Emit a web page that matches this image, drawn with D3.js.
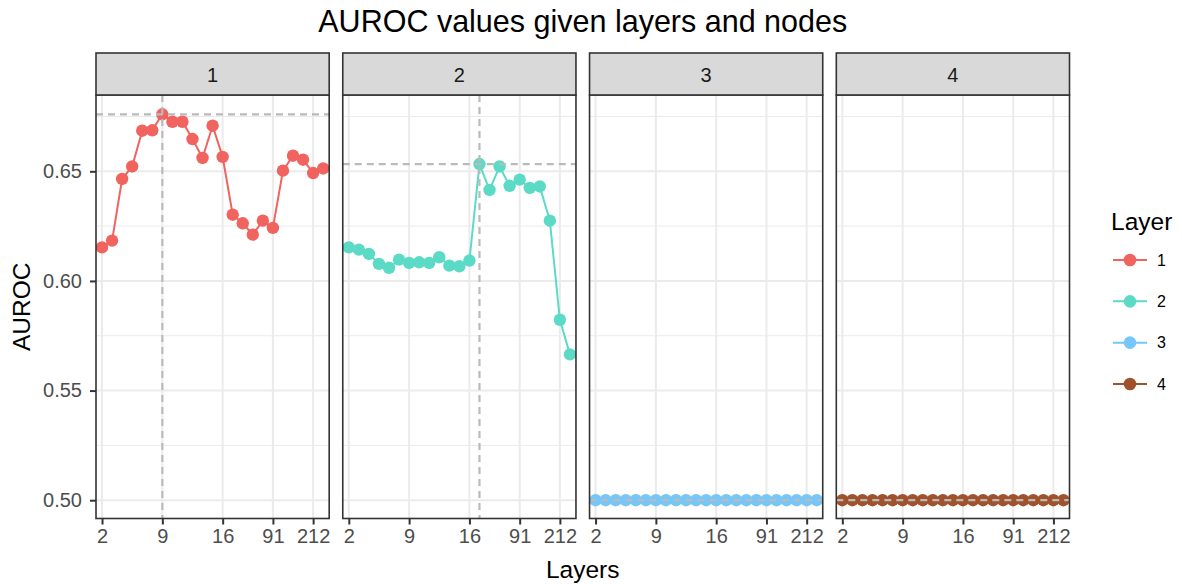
<!DOCTYPE html>
<html>
<head>
<meta charset="utf-8">
<script src="https://cdn.jsdelivr.net/npm/d3@7"></script>
<style>
  html, body { margin: 0; padding: 0; background: #fff; }
  svg { display: block; font-family: "Liberation Sans", Arial, sans-serif; }
</style>
</head>
<body>
<svg id="chart" width="1182" height="584"></svg>
<script>
// Facets: one panel per number of hidden layers
const layers = ["1", "2", "3", "4"];

// Node counts along the x axis (discrete), and the ones that get a tick label
const nodes = ["2", "3", "4", "5", "6", "7", "9", "10", "11", "12", "13", "14",
               "16", "31", "46", "61", "76", "91", "121", "151", "181", "212", "242"];
const tickNodes = ["2", "9", "16", "91", "212"];

// AUROC per node count, one series per layer
const auroc1 = [0.6153, 0.6184, 0.6465, 0.6522, 0.6685, 0.6687, 0.6760, 0.6726,
                0.6726, 0.6647, 0.6561, 0.6708, 0.6566, 0.6302, 0.6263, 0.6211,
                0.6275, 0.6242, 0.6503, 0.6571, 0.6553, 0.6492, 0.6513];
const auroc2 = [0.6153, 0.6143, 0.6123, 0.6078, 0.6060, 0.6097, 0.6082, 0.6085,
                0.6082, 0.6108, 0.6070, 0.6067, 0.6093, 0.6533, 0.6415, 0.6522,
                0.6434, 0.6462, 0.6424, 0.6431, 0.6275, 0.5823, 0.5665];
const auroc3 = [0.5, 0.5, 0.5, 0.5, 0.5, 0.5, 0.5, 0.5, 0.5, 0.5, 0.5, 0.5,
                0.5, 0.5, 0.5, 0.5, 0.5, 0.5, 0.5, 0.5, 0.5, 0.5, 0.5];
const auroc4 = [0.5, 0.5, 0.5, 0.5, 0.5, 0.5, 0.5, 0.5, 0.5, 0.5, 0.5, 0.5,
                0.5, 0.5, 0.5, 0.5, 0.5, 0.5, 0.5, 0.5, 0.5, 0.5, 0.5];
const series = [auroc1, auroc2, auroc3, auroc4];

const yTicks = [0.50, 0.55, 0.60, 0.65];
const colors = ["#F0635F", "#5BDBC6", "#76C6F7", "#A0522D"];

const svg = d3.select("#chart");

// Panel geometry
const panelTop = 95, panelBottom = 518.5;
const stripTop = 53;
const facetX = d3.scaleBand().domain(layers).range([96, 1069.5]).paddingInner(0.055).paddingOuter(0);
const pw = facetX.bandwidth();

const x = d3.scalePoint().domain(nodes).range([0, pw]).padding(0.6);

// Shared y scale with 5% expansion on the data range
const allVals = series.flat();
const yMin = d3.min(allVals), yMax = d3.max(allVals);
const ex = (yMax - yMin) * 0.05;
const y = d3.scaleLinear().domain([yMin - ex, yMax + ex]).range([panelBottom + 1, panelTop]);

const minorTicks = d3.range(yTicks.length + 1).map(i => yTicks[0] - 0.025 + i * 0.05)
  .filter(v => v > y.domain()[0] && v < y.domain()[1]);

const midX = facetX.range()[0] + (facetX.range()[1] - facetX.range()[0]) / 2;

// Title
svg.append("text")
  .attr("x", midX).attr("y", 32).attr("text-anchor", "middle")
  .attr("font-size", 30.5).attr("fill", "#000")
  .text("AUROC values given layers and nodes");

const defs = svg.append("defs");

layers.forEach((layer, li) => {
  const vals = series[li];
  const g = svg.append("g").attr("transform", `translate(${facetX(layer)},0)`);

  // Panel background
  g.append("rect").attr("x", 0).attr("y", panelTop).attr("width", pw)
    .attr("height", panelBottom - panelTop).attr("fill", "#fff");

  // Grid
  g.selectAll(".minor").data(minorTicks).join("line")
    .attr("x1", 0).attr("x2", pw).attr("y1", d => y(d)).attr("y2", d => y(d))
    .attr("stroke", "#EBEBEB").attr("stroke-width", 1);
  g.selectAll(".majorY").data(yTicks).join("line")
    .attr("x1", 0).attr("x2", pw).attr("y1", d => y(d)).attr("y2", d => y(d))
    .attr("stroke", "#EBEBEB").attr("stroke-width", 2);
  g.selectAll(".majorX").data(tickNodes).join("line")
    .attr("x1", d => x(d)).attr("x2", d => x(d)).attr("y1", panelTop).attr("y2", panelBottom)
    .attr("stroke", "#EBEBEB").attr("stroke-width", 2);

  // Clip for marks
  const clipId = "clip" + li;
  defs.append("clipPath").attr("id", clipId).append("rect")
    .attr("x", 0).attr("y", panelTop).attr("width", pw).attr("height", panelBottom - panelTop);
  const marks = g.append("g").attr("clip-path", `url(#${clipId})`);

  const pts = nodes.map((n, i) => ({ n, v: vals[i] }));
  marks.append("path").datum(pts)
    .attr("fill", "none").attr("stroke", colors[li]).attr("stroke-width", 2)
    .attr("d", d3.line().x(d => x(d.n)).y(d => y(d.v)));
  marks.selectAll("circle").data(pts).join("circle")
    .attr("cx", d => x(d.n)).attr("cy", d => y(d.v)).attr("r", 6.2)
    .attr("fill", colors[li]);

  // Reference lines at the best AUROC of each layer
  const best = d3.max(vals);
  marks.append("line").attr("x1", 0).attr("x2", pw)
    .attr("y1", y(best)).attr("y2", y(best))
    .attr("stroke", "#BABABA").attr("stroke-width", 2.2).attr("stroke-dasharray", "7,5");
  if (d3.min(vals) !== best) {
    const bi = d3.maxIndex(vals);
    marks.append("line").attr("x1", x(nodes[bi])).attr("x2", x(nodes[bi]))
      .attr("y1", panelTop).attr("y2", panelBottom)
      .attr("stroke", "#BABABA").attr("stroke-width", 2.2).attr("stroke-dasharray", "7,5");
  }

  // Panel border
  g.append("rect").attr("x", 0).attr("y", panelTop).attr("width", pw)
    .attr("height", panelBottom - panelTop)
    .attr("fill", "none").attr("stroke", "#333333").attr("stroke-width", 1.6);

  // Strip
  g.append("rect").attr("x", 0).attr("y", stripTop).attr("width", pw)
    .attr("height", panelTop - stripTop)
    .attr("fill", "#D9D9D9").attr("stroke", "#333333").attr("stroke-width", 1.6);
  g.append("text").attr("x", pw / 2).attr("y", 81.5).attr("text-anchor", "middle")
    .attr("font-size", 20).attr("fill", "#1A1A1A").text(layer);

  // X axis
  const xAxis = g.append("g").attr("transform", `translate(0,${panelBottom})`)
    .call(d3.axisBottom(x).tickValues(tickNodes).tickSize(6).tickPadding(4));
  xAxis.select(".domain").remove();
  xAxis.selectAll(".tick line").attr("stroke", "#333333").attr("stroke-width", 2);
  xAxis.selectAll(".tick text").attr("font-size", 20).attr("fill", "#4D4D4D")
    .attr("font-family", "Liberation Sans, Arial, sans-serif");

  // Y axis on the first panel only
  if (li === 0) {
    const yAxis = g.append("g")
      .call(d3.axisLeft(y).tickValues(yTicks).tickFormat(d3.format(".2f")).tickSize(6).tickPadding(8));
    yAxis.select(".domain").remove();
    yAxis.selectAll(".tick line").attr("stroke", "#333333").attr("stroke-width", 2);
    yAxis.selectAll(".tick text").attr("font-size", 20).attr("fill", "#4D4D4D")
      .attr("font-family", "Liberation Sans, Arial, sans-serif");
  }
});

// Axis titles
svg.append("text")
  .attr("x", midX).attr("y", 578).attr("text-anchor", "middle")
  .attr("font-size", 24.5).attr("fill", "#000")
  .text("Layers");
svg.append("text")
  .attr("transform", `translate(30,${(panelTop + panelBottom) / 2}) rotate(-90)`)
  .attr("text-anchor", "middle").attr("font-size", 24.5).attr("fill", "#000")
  .text("AUROC");

// Legend
const legend = svg.append("g").attr("transform", "translate(1111,0)");
legend.append("text").attr("x", 0).attr("y", 230).attr("font-size", 24.5).attr("fill", "#000")
  .text("Layer");
const keyY = d3.scalePoint().domain(layers).range([260, 384]);
layers.forEach((layer, li) => {
  const k = legend.append("g").attr("transform", `translate(0,${keyY(layer)})`);
  k.append("line").attr("x1", 2).attr("x2", 36).attr("y1", 0).attr("y2", 0)
    .attr("stroke", colors[li]).attr("stroke-width", 2);
  k.append("circle").attr("cx", 19).attr("cy", 0).attr("r", 6.3).attr("fill", colors[li]);
  k.append("text").attr("x", 46).attr("y", 0).attr("dy", "0.36em")
    .attr("font-size", 16).attr("fill", "#000").text(layer);
});
</script>
</body>
</html>
